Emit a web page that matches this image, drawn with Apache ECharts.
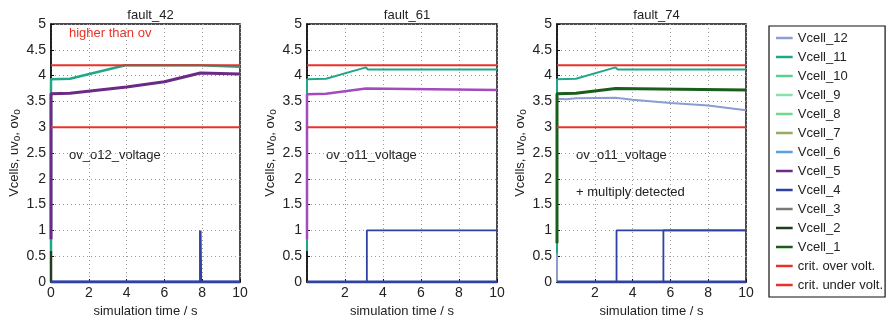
<!DOCTYPE html>
<html><head><meta charset="utf-8">
<script src="https://cdn.jsdelivr.net/npm/echarts@6/dist/echarts.min.js"></script>
<style>html,body{margin:0;padding:0;background:#fff}#c{width:889px;height:323px}</style>
</head><body><div id="c"></div>
<script>
// ---- data ----
var panelTitles = ['fault_42', 'fault_61', 'fault_74'];
var legendNames = ['Vcell_12','Vcell_11','Vcell_10','Vcell_9','Vcell_8','Vcell_7','Vcell_6','Vcell_5','Vcell_4','Vcell_3','Vcell_2','Vcell_1','crit. over volt.','crit. under volt.'];
var ovLimit = 4.2, uvLimit = 3.0;

// fault_42
var p1_c11_t = [0, 0, 1, 3.93, 7.9, 7.9, 10];
var p1_c11_v = [0.6, 3.93, 3.94, 4.2, 4.2, 4.17, 4.17];
var p1_c5_t = [0, 0, 1, 4, 6, 7.9, 8, 10];
var p1_c5_v = [0.83, 3.65, 3.66, 3.78, 3.88, 4.05, 4.03, 4.03];
var p1_c2_t = [0, 0];
var p1_c2_v = [0, 0.6];
var p1_flag_t = [0, 7.9, 7.9, 7.93, 7.93, 10];
var p1_flag_v = [0, 0, 1, 1, 0, 0];
var p1_zero_t = [0, 10];
var p1_zero_v = [0, 0];

// fault_61
var p2_c11_t = [0, 0, 1, 3.1, 3.2, 10];
var p2_c11_v = [0.6, 3.93, 3.94, 4.16, 4.12, 4.12];
var p2_c5_t = [0, 0, 1, 3.1, 3.2, 10];
var p2_c5_v = [0.83, 3.64, 3.65, 3.75, 3.72, 3.72];
var p2_flag_t = [0, 3.15, 3.15, 10];
var p2_flag_v = [0, 0, 1, 1];
var p2_zero_t = [0, 10];
var p2_zero_v = [0, 0];

// fault_74
var p3_c12_t = [0, 0, 0.5, 1, 3.1, 3.2, 4, 6, 8, 10];
var p3_c12_v = [0, 3.55, 3.54, 3.56, 3.57, 3.55, 3.53, 3.47, 3.42, 3.33];
var p3_c11_t = [0, 0, 1, 3.1, 3.2, 10];
var p3_c11_v = [0.55, 3.93, 3.94, 4.16, 4.12, 4.12];
var p3_c1_t = [0, 0, 1, 3.1, 3.2, 10];
var p3_c1_v = [0.75, 3.65, 3.66, 3.75, 3.72, 3.72];
var p3_flagA_t = [0, 3.15, 3.15, 10];
var p3_flagA_v = [0, 0, 1, 1];
var p3_flagB_t = [0, 5.63, 5.63, 10];
var p3_flagB_v = [0, 0, 1, 1];
var p3_zero_t = [0, 10];
var p3_zero_v = [0, 0];

// ---- styles ----
var colors = {
  'Vcell_12': '#8b9ed2', 'Vcell_11': '#1fa888', 'Vcell_10': '#5ccf90', 'Vcell_9': '#88e0aa',
  'Vcell_8': '#72d88c', 'Vcell_7': '#93ad5e', 'Vcell_6': '#5a9fdc', 'Vcell_5': '#6a2a86',
  'Vcell_4': '#2e42a3', 'Vcell_3': '#7a7a72', 'Vcell_2': '#203f20', 'Vcell_1': '#1b5e1b',
  'crit. over volt.': '#e8332a', 'crit. under volt.': '#e8332a'
};
var font = 'Liberation Sans, Arial, sans-serif';
var gridsPos = [{left: 51, width: 189}, {left: 307, width: 190}, {left: 557, width: 189}];

function zip(t, v) { return t.map(function (x, i) { return [x, v[i]]; }); }
function line(name, gi, t, v, opts) {
  opts = opts || {};
  var c = opts.color || colors[name];
  return {
    type: 'line', name: name, xAxisIndex: gi, yAxisIndex: gi, data: zip(t, v),
    symbol: 'none', showSymbol: false, animation: false, silent: true,
    lineStyle: {color: c, width: opts.width || 2}, itemStyle: {color: c}, z: opts.z || 2
  };
}

var series = [];
['Vcell_10','Vcell_9','Vcell_8','Vcell_7','Vcell_6','Vcell_3'].forEach(function (n) {
  series.push(line(n, 0, [], []));
});
// panel 1
series.push(line('Vcell_2', 0, p1_c2_t, p1_c2_v, {width: 2.5, z: 2}));
series.push(line('Vcell_11', 0, p1_c11_t, p1_c11_v, {width: 2.5, z: 3}));
series.push(line('Vcell_5', 0, p1_c5_t, p1_c5_v, {width: 3, z: 4}));
series.push(line('Vcell_4', 0, p1_zero_t, p1_zero_v, {width: 3, z: 5}));
series.push(line('Vcell_4', 0, p1_flag_t, p1_flag_v, {width: 2.5, z: 5}));
// panel 2
series.push(line('Vcell_11', 1, p2_c11_t, p2_c11_v, {width: 2, z: 3}));
series.push(line('Vcell_5', 1, p2_c5_t, p2_c5_v, {width: 2.5, z: 4, color: '#a24bbd'}));
series.push(line('Vcell_4', 1, p2_zero_t, p2_zero_v, {width: 3, z: 5}));
series.push(line('Vcell_4', 1, p2_flag_t, p2_flag_v, {width: 1.8, z: 5}));
// panel 3
series.push(line('Vcell_12', 2, p3_c12_t, p3_c12_v, {width: 2, z: 2}));
series.push(line('Vcell_11', 2, p3_c11_t, p3_c11_v, {width: 2, z: 3}));
series.push(line('Vcell_1', 2, p3_c1_t, p3_c1_v, {width: 3, z: 4}));
series.push(line('Vcell_4', 2, p3_zero_t, p3_zero_v, {width: 3, z: 5}));
series.push(line('Vcell_4', 2, p3_flagA_t, p3_flagA_v, {width: 1.8, z: 5}));
series.push(line('Vcell_4', 2, p3_flagB_t, p3_flagB_v, {width: 1.8, z: 5}));
// limits
[0, 1, 2].forEach(function (g) {
  series.push(line('crit. over volt.', g, [0, 10], [ovLimit, ovLimit], {width: 2, z: 6}));
  series.push(line('crit. under volt.', g, [0, 10], [uvLimit, uvLimit], {width: 2, z: 6}));
});

var grids = [], xAxes = [], yAxes = [], titles = [];
gridsPos.forEach(function (p, i) {
  grids.push({left: p.left, width: p.width, top: 24, height: 263, show: true,
    borderColor: '#111', borderWidth: 1.5, backgroundColor: '#fff', containLabel: false});
  titles.push({text: panelTitles[i], left: p.left + p.width / 2, top: 4, textAlign: 'center',
    textStyle: {fontFamily: font, fontSize: 13, fontWeight: 'normal', color: '#222'}});
  xAxes.push({type: 'value', gridIndex: i, min: 0, max: 10, interval: 2,
    name: 'simulation time / s', nameLocation: 'middle', nameGap: 23,
    nameTextStyle: {fontFamily: font, fontSize: 13, color: '#222'},
    axisLine: {show: true, onZero: false, lineStyle: {color: '#111', width: 1.5}},
    axisTick: {show: true, inside: true, length: 3, lineStyle: {color: '#111'}},
    axisLabel: {fontFamily: font, fontSize: 14, color: '#222', margin: 4,
      formatter: function (v) { return (i > 0 && v === 0) ? '' : String(v); }},
    splitLine: {show: true, lineStyle: {color: '#9a9a9a', type: [1, 3], width: 1}}
  });
  yAxes.push({type: 'value', gridIndex: i, min: 0, max: 5, interval: 0.5,
    name: 'Vcells, uv{s|o}, ov{s|o}', nameLocation: 'middle', nameGap: 25,
    nameTextStyle: {fontFamily: font, fontSize: 13, color: '#222',
      rich: {s: {fontFamily: font, fontSize: 10, color: '#222', verticalAlign: 'bottom', padding: [6, 0, 0, 0]}}},
    axisLine: {show: true, onZero: false, lineStyle: {color: '#111', width: 1.5}},
    axisTick: {show: true, inside: true, length: 3, lineStyle: {color: '#111'}},
    axisLabel: {fontFamily: font, fontSize: 14, color: '#222', margin: 5},
    splitLine: {show: true, lineStyle: {color: '#9a9a9a', type: [1, 3], width: 1}}
  });
});

var chart = echarts.init(document.getElementById('c'), null, {renderer: 'canvas'});
chart.setOption({
  backgroundColor: '#fff',
  animation: false,
  title: titles,
  grid: grids,
  xAxis: xAxes,
  yAxis: yAxes,
  legend: {
    data: legendNames, orient: 'vertical', left: 769, top: 26,
    backgroundColor: '#fff', borderColor: '#111', borderWidth: 1.2,
    padding: [5, 2, 5, 7], itemGap: 5, itemWidth: 17, itemHeight: 2.5,
    icon: 'path://M0,0H20V3H0Z', selectedMode: false,
    textStyle: {fontFamily: font, fontSize: 13, color: '#222', lineHeight: 14}
  },
  graphic: [
    {type: 'text', left: 69, top: 27, silent: true, style: {text: 'higher than ov', fill: '#e8332a', font: '13px ' + font}},
    {type: 'text', left: 69, top: 149, silent: true, style: {text: 'ov_o12_voltage', fill: '#222', font: '13px ' + font}},
    {type: 'text', left: 326, top: 149, silent: true, style: {text: 'ov_o11_voltage', fill: '#222', font: '13px ' + font}},
    {type: 'text', left: 576, top: 149, silent: true, style: {text: 'ov_o11_voltage', fill: '#222', font: '13px ' + font}},
    {type: 'text', left: 576, top: 186, silent: true, style: {text: '+ multiply detected', fill: '#222', font: '13px ' + font}}
  ],
  series: series
});
</script></body></html>
